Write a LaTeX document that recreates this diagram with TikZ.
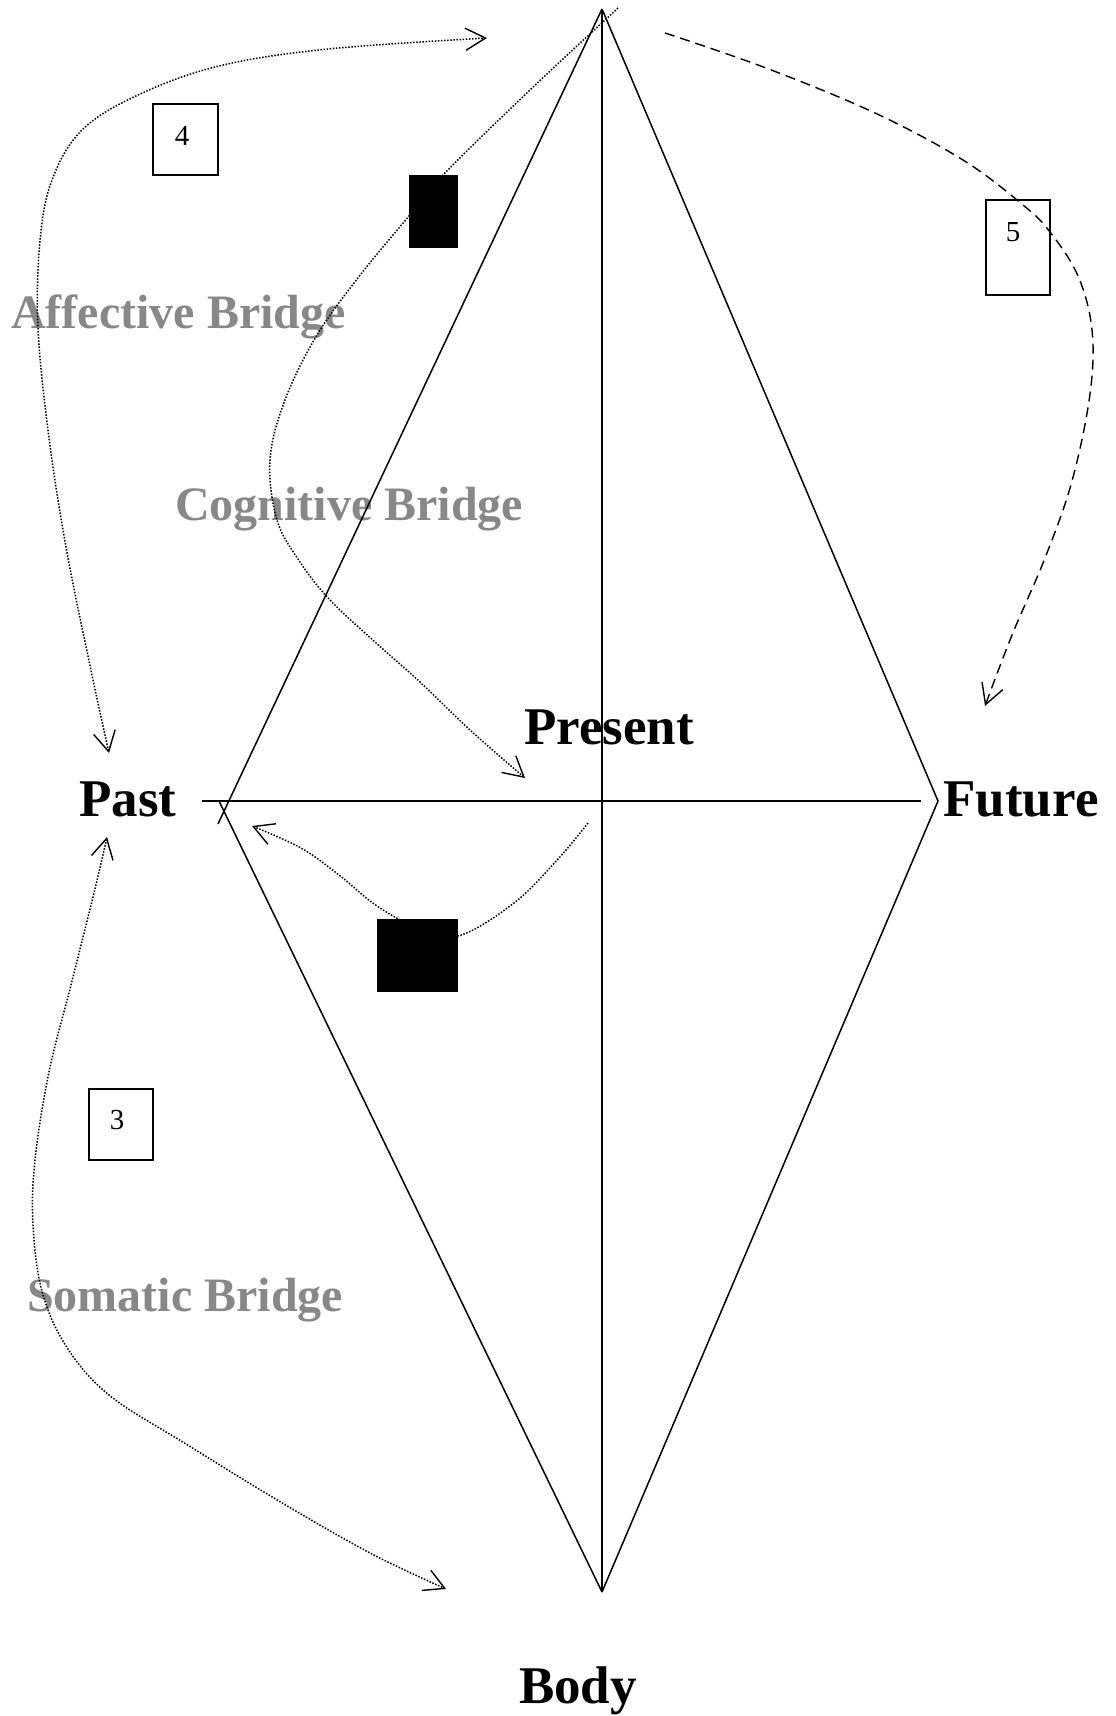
\documentclass[tikz,border=0pt]{standalone}
\usepackage{fontspec}
\setmainfont{Liberation Serif}
\usetikzlibrary{arrows.meta}
\definecolor{bridgegray}{HTML}{888888}
\begin{document}
\begin{tikzpicture}[x=1pt,y=-1pt,
  mainline/.style={line width=1.5pt},
  dotconn/.style={line width=1.5pt, dash pattern=on 1.5pt off 1.6pt},
  dashconn/.style={line width=1.4pt, dash pattern=on 10pt off 6pt},
  barbend/.style={-{Straight Barb[length=20pt,width=22pt,line width=1.4pt]}},
  barbboth/.style={{Straight Barb[length=20pt,width=22pt,line width=1.4pt]}-{Straight Barb[length=20pt,width=22pt,line width=1.4pt]}},
  bigword/.style={inner sep=0pt, anchor=base, font=\fontsize{53}{60}\selectfont\bfseries},
  bridgeword/.style={inner sep=0pt, anchor=base west, text=bridgegray, font=\fontsize{48}{54}\selectfont\bfseries},
  numbox/.style={draw, line width=1.4pt, inner sep=0pt},
  digit/.style={inner sep=0pt, font=\fontsize{29}{33}\selectfont},
  blackbox/.style={fill=black, draw=none, inner sep=0pt}
]
\useasboundingbox (0,0) rectangle (1116,1716);
\fill[white] (0,0) rectangle (1116,1716);

% corner points of the kite
\coordinate (T) at (602,9);
\coordinate (B) at (602,1592);
\coordinate (R) at (938,801);
\coordinate (Lup) at (218,824);
\coordinate (Llo) at (219,801);
\coordinate (Hl) at (202,801);
\coordinate (Hr) at (921,801);

% labels
\node[bigword] (past) at (128,816) {Past};
\node[bigword] (present) at (609,744) {Present};
\node[bigword] (future) at (1021,816) {Future};
\node[bigword] (body) at (578,1703) {Body};

\node[bridgeword] (affective) at (11,328) {Affective Bridge};
\node[bridgeword] (cognitive) at (175,520) {Cognitive Bridge};
\node[bridgeword] (somatic) at (27,1311) {Somatic Bridge};

% kite
\draw[mainline] (T) -- (Lup);
\draw[mainline] (Llo) -- (B);
\draw[mainline] (T) -- (R) -- (B);
\draw[mainline] (T) -- (B);
\draw[mainline] (Hl) -- (Hr);

% numbered boxes
\node[numbox, minimum width=65pt, minimum height=71pt] (b4) at (185.5,139.5) {};
\node[digit] (d4) at (182,136) {4};
\node[numbox, minimum width=64pt, minimum height=95pt] (b5) at (1018,247.5) {};
\node[digit] (d5) at (1013,232) {5};
\node[numbox, minimum width=64pt, minimum height=71pt] (b3) at (121,1124.5) {};
\node[digit] (d3) at (117,1120) {3};

% connector end points
\coordinate (affA) at (109,753);
\coordinate (affB) at (487,38);
\coordinate (cogA) at (618,8);
\coordinate (cogB) at (525,778);
\coordinate (lowA) at (588,823);
\coordinate (lowB) at (252,826);
\coordinate (somA) at (107,837);
\coordinate (somB) at (446,1589);
\coordinate (futA) at (665,33);
\coordinate (futB) at (985,706);

% affective bridge
\draw[dotconn, barbboth] plot[smooth, tension=0.6] coordinates {(affA) (88,656) (66,547) (49,438) (38,328) (40,241) (52,180) (82,130) (138,95) (219,66) (328,49) (affB)};

% cognitive bridge
\draw[dotconn, barbend] plot[smooth, tension=0.6] coordinates {(cogA) (530,90) (443,175) (409,216) (361,274) (317,335) (285,400) (270,460) (277,520) (300,562) (330,600) (375,642) (420,682) (470,730) (cogB)};

% lower curve
\draw[dotconn, barbend] plot[smooth, tension=0.6] coordinates {(lowA) (558,859) (514,903) (458,936) (418,928) (377,906) (339,875) (301,848) (lowB)};

% somatic bridge
\draw[dotconn, barbboth] plot[smooth, tension=0.6] coordinates {(somA) (93,897) (71,985) (49,1072) (35,1160) (33,1225) (42,1291) (66,1346) (109,1395) (186,1444) (284,1504) (372,1554) (somB)};

% future dashed curve
\draw[dashconn, barbend] plot[smooth, tension=0.6] coordinates {(futA) (766,68) (875,113) (963,160) (1023,205) (1050,232) (1078,276) (1092,330) (1090,394) (1072,481) (1045,558) (1012,635) (futB)};

% black boxes on top
\node[blackbox, minimum width=49pt, minimum height=73pt] (blk1) at (433.5,211.5) {};
\node[blackbox, minimum width=81pt, minimum height=73pt] (blk2) at (417.5,955.5) {};
\end{tikzpicture}
\end{document}
